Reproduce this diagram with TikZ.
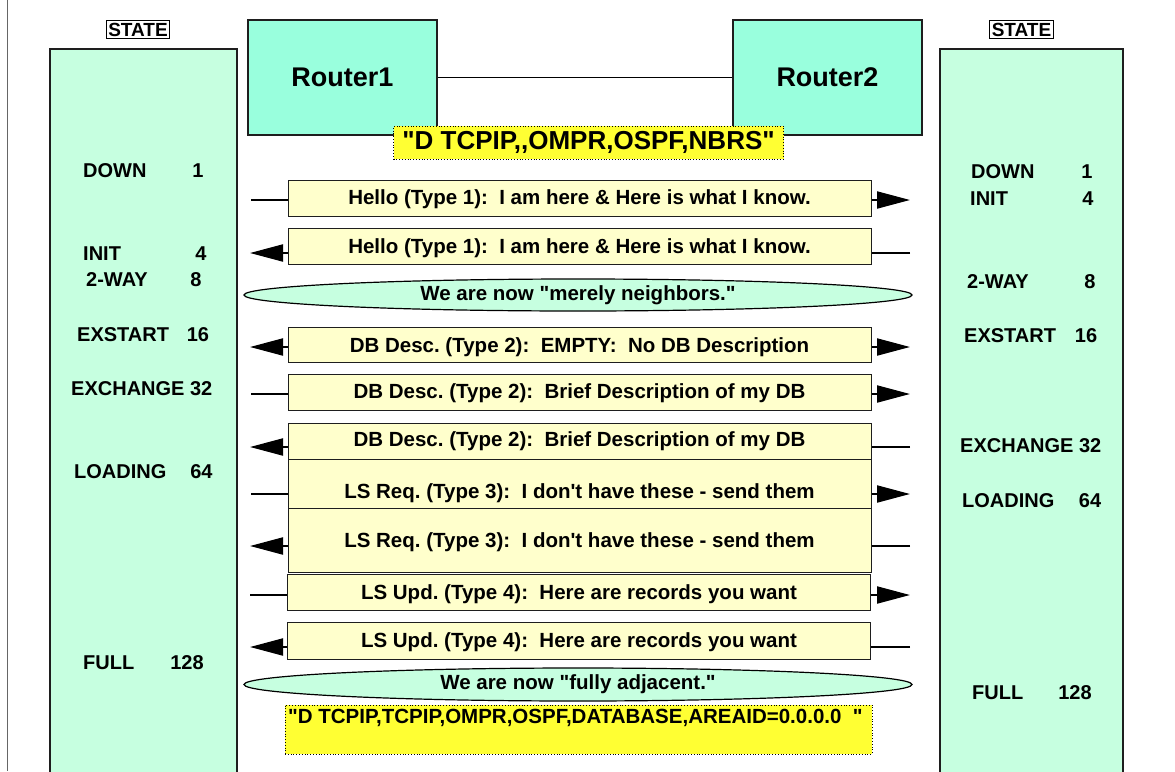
\documentclass[tikz,border=0pt]{standalone}
\usepackage{fontspec}
\setmainfont{Liberation Sans}[Ligatures=TeXOff]
\usetikzlibrary{shapes.geometric,arrows.meta}
\definecolor{panelgreen}{RGB}{198,255,224}
\definecolor{routergreen}{RGB}{153,255,221}
\definecolor{msgyellow}{RGB}{255,255,204}
\definecolor{notehi}{RGB}{255,255,51}
\definecolor{edgegray}{RGB}{30,30,30}
\frenchspacing
\begin{document}
\begin{tikzpicture}[x=1pt,y=-1pt,
  panel/.style={draw=edgegray, fill=panelgreen, line width=1.2pt},
  statebox/.style={draw=black, fill=white, line width=1pt, inner xsep=2pt, inner ysep=2.5pt,
    font=\bfseries\fontsize{19}{22}\selectfont},
  statelbl/.style={inner sep=0pt, font=\bfseries\fontsize{20}{24}\selectfont},
  router/.style={draw=edgegray, fill=routergreen, line width=1.2pt, minimum width=189pt,
    minimum height=115pt, inner sep=0pt, font=\bfseries\fontsize{27}{30}\selectfont},
  msgbox/.style={draw=edgegray, fill=msgyellow, line width=1pt, minimum width=583pt, inner sep=0pt},
  msgtext/.style={inner sep=0pt, font=\bfseries\fontsize{20.5}{24}\selectfont},
  phase/.style={ellipse, draw=black, fill=panelgreen, line width=1.2pt, minimum width=668pt,
    inner sep=0pt, font=\bfseries\fontsize{20.5}{24}\selectfont},
  cmdbox/.style={draw=black, dotted, fill=notehi, line width=0.8pt, inner sep=0pt},
  wire/.style={line width=2pt},
  sendarrow/.style={wire, -{Triangle[length=33pt,width=17pt]}}
]
\useasboundingbox (0,0) rectangle (1175,771);

% page edge
\draw[line width=1.5pt, black!60] (7.5,0) -- (7.5,771);

% state columns
\draw[panel] (50,49) rectangle (237,800);
\draw[panel] (940,49) rectangle (1123,800);
\node[statebox] (stL) at (138,29.5) {STATE};
\node[statebox] (stR) at (1021.5,29.5) {STATE};

% routers and link
\node[router] (r1) at (342.5,77.5) {Router1};
\node[router] (r2) at (827.5,77.5) {Router2};
\draw[line width=1pt] (r1) -- (r2);
\node[cmdbox, minimum width=390pt, minimum height=33pt,
      font=\bfseries\fontsize{26}{28}\selectfont] (c1) at (588.5,142.5) {"D TCPIP,,OMPR,OSPF,NBRS"};

% left states
\node[statelbl, anchor=west] (lDown) at (83,171) {DOWN};
\node[statelbl] (lDownN) at (198,171) {1};
\node[statelbl, anchor=west] (lInit) at (83,254) {INIT};
\node[statelbl] (lInitN) at (201,254) {4};
\node[statelbl, anchor=west] (lTwo) at (86,280) {2-WAY};
\node[statelbl] (lTwoN) at (196,280) {8};
\node[statelbl, anchor=west] (lExs) at (77,335) {EXSTART};
\node[statelbl] (lExsN) at (198,335) {16};
\node[statelbl, anchor=west] (lExc) at (71,389) {EXCHANGE 32};
\node[statelbl, anchor=west] (lLoad) at (74,472) {LOADING};
\node[statelbl] (lLoadN) at (201.5,472) {64};
\node[statelbl, anchor=west] (lFull) at (83,663) {FULL};
\node[statelbl] (lFullN) at (187,663) {128};

% right states
\node[statelbl, anchor=west] (rDown) at (971,172) {DOWN};
\node[statelbl] (rDownN) at (1087,172) {1};
\node[statelbl, anchor=west] (rInit) at (970,199) {INIT};
\node[statelbl] (rInitN) at (1088,199) {4};
\node[statelbl, anchor=west] (rTwo) at (967,282) {2-WAY};
\node[statelbl] (rTwoN) at (1090,282) {8};
\node[statelbl, anchor=west] (rExs) at (964,336) {EXSTART};
\node[statelbl] (rExsN) at (1086,336) {16};
\node[statelbl, anchor=west] (rExc) at (960,446) {EXCHANGE 32};
\node[statelbl, anchor=west] (rLoad) at (962,501) {LOADING};
\node[statelbl] (rLoadN) at (1090,501) {64};
\node[statelbl, anchor=west] (rFull) at (972,693) {FULL};
\node[statelbl] (rFullN) at (1075,693) {128};

% message boxes
\node[msgbox, minimum height=36pt] (m1) at (579.5,198) {};
\node[msgtext] (t1) at (579.5,199) {Hello (Type 1):\ \ I am here \& Here is what I know.};
\node[msgbox, minimum height=36pt] (m2) at (579.5,246) {};
\node[msgtext] (t2) at (579.5,248) {Hello (Type 1):\ \ I am here \& Here is what I know.};
\node[phase, minimum height=32pt] (e1) at (578,295) {We are now "merely neighbors."};
\node[msgbox, minimum height=35pt] (m3) at (579.5,344.5) {};
\node[msgtext] (t3) at (579.5,347) {DB Desc. (Type 2):\ \ EMPTY:\ \ No DB Description};
\node[msgbox, minimum height=36pt] (m4) at (579.5,392) {};
\node[msgtext] (t4) at (579.5,393) {DB Desc. (Type 2):\ \ Brief Description of my DB};
\node[msgbox, minimum height=36pt] (m5) at (579.5,441) {};
\node[msgtext] (t5) at (579.5,441) {DB Desc. (Type 2):\ \ Brief Description of my DB};
\node[msgbox, minimum height=49pt] (m6) at (579.5,483.5) {};
\node[msgtext] (t6) at (579.5,493) {LS Req. (Type 3):\ \ I don't have these - send them};
\node[msgbox, minimum height=64pt] (m7) at (579.5,540) {};
\node[msgtext] (t7) at (579.5,542) {LS Req. (Type 3):\ \ I don't have these - send them};
\node[msgbox, minimum height=36pt] (m8) at (579,592) {};
\node[msgtext] (t8) at (579,594) {LS Upd. (Type 4):\ \ Here are records you want};
\node[msgbox, minimum height=37pt] (m9) at (579,640.5) {};
\node[msgtext] (t9) at (579,642) {LS Upd. (Type 4):\ \ Here are records you want};
\node[phase, minimum height=33pt] (e2) at (578,684.5) {We are now "fully adjacent."};
\node[cmdbox, minimum width=587pt, minimum height=49pt] (c2) at (578.5,729.5) {};
\node[msgtext, anchor=west] (tc2) at (288,718) {"D TCPIP,TCPIP,OMPR,OSPF,DATABASE,AREAID=0.0.0.0\ \ "};

% wire ends
\coordinate (w1) at (251,200);  \coordinate (a1) at (910,200);
\coordinate (a2) at (250,253);  \coordinate (w2) at (910,253);
\coordinate (a3l) at (250,347); \coordinate (a3r) at (910,347);
\coordinate (w4) at (251,394);  \coordinate (a4) at (910,394);
\coordinate (a5) at (250,447);  \coordinate (w5) at (910,447);
\coordinate (w6) at (251,494);  \coordinate (a6) at (910,494);
\coordinate (a7) at (250,546);  \coordinate (w7) at (910,546);
\coordinate (w8) at (250,595);  \coordinate (a8) at (910,595);
\coordinate (a9) at (250,647);  \coordinate (w9) at (910,647);

% Router1 -> Router2 (left line, right arrow)
\draw[wire] (w1) -- (m1.west |- w1);
\draw[sendarrow] (m1.east |- a1) -- (a1);
\draw[wire] (w4) -- (m4.west |- w4);
\draw[sendarrow] (m4.east |- a4) -- (a4);
\draw[wire] (w6) -- (m6.west |- w6);
\draw[sendarrow] (m6.east |- a6) -- (a6);
\draw[wire] (w8) -- (m8.west |- w8);
\draw[sendarrow] (m8.east |- a8) -- (a8);
% Router2 -> Router1 (right line, left arrow)
\draw[wire] (w2) -- (m2.east |- w2);
\draw[sendarrow] (m2.west |- a2) -- (a2);
\draw[wire] (w5) -- (m5.east |- w5);
\draw[sendarrow] (m5.west |- a5) -- (a5);
\draw[wire] (w7) -- (m7.east |- w7);
\draw[sendarrow] (m7.west |- a7) -- (a7);
\draw[wire] (w9) -- (m9.east |- w9);
\draw[sendarrow] (m9.west |- a9) -- (a9);
% both directions
\draw[sendarrow] (m3.west |- a3l) -- (a3l);
\draw[sendarrow] (m3.east |- a3r) -- (a3r);
\end{tikzpicture}
\end{document}
